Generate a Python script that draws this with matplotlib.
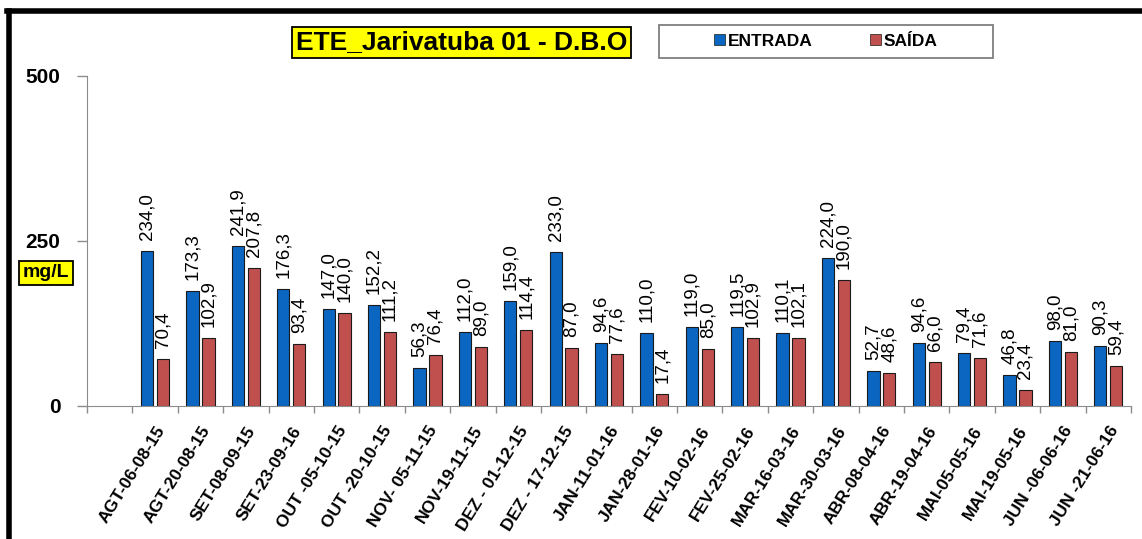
import numpy as np
import matplotlib
matplotlib.use('Agg')
import matplotlib.pyplot as plt
from matplotlib.patches import Rectangle, Patch
from matplotlib.lines import Line2D

plt.rcParams['font.family'] = ['Liberation Sans', 'DejaVu Sans']

# dados
datas = ['AGT-06-08-15', 'AGT-20-08-15', 'SET-08-09-15', 'SET-23-09-16',
         'OUT -05-10-15', 'OUT -20-10-15', 'NOV- 05-11-15', 'NOV-19-11-15',
         'DEZ - 01-12-15', 'DEZ - 17-12-15', 'JAN-11-01-16', 'JAN-28-01-16',
         'FEV-10-02-16', 'FEV-25-02-16', 'MAR-16-03-16', 'MAR-30-03-16',
         'ABR-08-04-16', 'ABR-19-04-16', 'MAI-05-05-16', 'MAI-19-05-16',
         'JUN -06-06-16', 'JUN -21-06-16']
entrada = [234.0, 173.3, 241.9, 176.3, 147.0, 152.2, 56.3, 112.0, 159.0, 233.0,
           94.6, 110.0, 119.0, 119.5, 110.1, 224.0, 52.7, 94.6, 79.4, 46.8, 98.0, 90.3]
saida = [70.4, 102.9, 207.8, 93.4, 140.0, 111.2, 76.4, 89.0, 114.4, 87.0,
         77.6, 17.4, 85.0, 102.9, 102.1, 190.0, 48.6, 66.0, 71.6, 23.4, 81.0, 59.4]

azul = '#0B66C2'
verm = '#C0504D'
cinza = '#8C8C8C'

fig = plt.figure(figsize=(11.42, 5.39), dpi=100)
ax = fig.add_axes([87/1142, 1-405.5/539, (1131-87)/1142, (405.5-75.7)/539])

x = np.arange(len(datas))
w = 0.27
b1 = ax.bar(x - 0.175, entrada, w, color=azul, edgecolor='#1a1a1a', linewidth=0.8)
b2 = ax.bar(x + 0.175, saida, w, color=verm, edgecolor='#1a1a1a', linewidth=0.8)

def rotulos(barras, vals):
    for r, v in zip(barras, vals):
        ax.annotate(('%.1f' % v).replace('.', ','),
                    (r.get_x() + r.get_width()/2, r.get_height()),
                    xytext=(0, 11), textcoords='offset pixels',
                    rotation=90, ha='center', va='bottom', fontsize=13.5)

rotulos(b1, entrada)
rotulos(b2, saida)

ax.set_xlim(-1.5, len(datas) - 0.5)
ax.set_ylim(0, 500)
ax.set_yticks([0, 250, 500])
ax.set_yticklabels(['0', '250', '500'], fontsize=15, fontweight='bold')
ax.tick_params(axis='y', length=7, color=cinza, width=1, pad=12)

ax.set_xticks(x)
ax.set_xticklabels(datas, rotation=58, ha='right', rotation_mode='anchor',
                   fontsize=12.5, fontweight='bold')
ax.tick_params(axis='x', length=0, pad=13)
ax.set_xticks(np.arange(-1.5, len(datas)), minor=True)
ax.tick_params(axis='x', which='minor', length=5, color=cinza, width=1)

for s in ['top', 'right']:
    ax.spines[s].set_visible(False)
ax.spines['left'].set_color(cinza)
ax.spines['bottom'].set_color(cinza)

# titulo
fig.text(461.5/1142, 1-42.5/539, 'ETE_Jarivatuba 01 - D.B.O', fontsize=19,
         fontweight='bold', ha='center', va='center',
         bbox=dict(boxstyle='square,pad=0.15', fc='#FFFF00', ec='black', lw=1.3))

# unidade
fig.text(46/1142, 1-273/539, 'mg/L', fontsize=14, fontweight='bold',
         ha='center', va='center',
         bbox=dict(boxstyle='square,pad=0.2', fc='#FFFF00', ec='black', lw=1.3))

# legenda
fig.patches.append(Rectangle((659/1142, 1-58/539), 334/1142, 33/539,
                             transform=fig.transFigure, fc='white', ec='#7f7f7f', lw=1.3))
alca = [Patch(fc=azul, ec='#1a1a1a', lw=0.5), Patch(fc=verm, ec='#1a1a1a', lw=0.5)]
fig.legend(alca, ['ENTRADA', 'SAÍDA'], loc='center', bbox_to_anchor=(826/1142, 1-41.5/539),
           ncol=2, frameon=False, handlelength=0.6, handleheight=0.6,
           handletextpad=0.2, columnspacing=3.3,
           prop={'weight': 'bold', 'size': 12.5})

# moldura
fig.add_artist(Line2D([8.5/1142, 8.5/1142], [0, 1-11/539], transform=fig.transFigure,
                      color='black', lw=4))
fig.add_artist(Line2D([6.5/1142, 1], [1-11/539, 1-11/539], transform=fig.transFigure,
                      color='black', lw=4))

fig.savefig('out.png', dpi=100)
